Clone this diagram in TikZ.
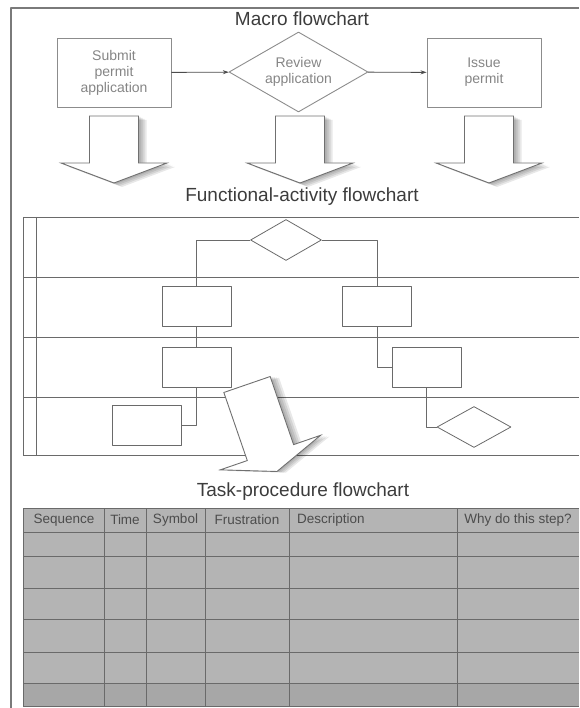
\documentclass[tikz,border=0pt]{standalone}
\usepackage{fontspec}
\setmainfont{Liberation Sans}
\usetikzlibrary{shapes.geometric,arrows.meta}
\definecolor{framegray}{HTML}{7A7A7A}
\definecolor{linegray}{HTML}{8C8C8C}
\definecolor{lanegray}{HTML}{6A6A6A}
\definecolor{textgray}{HTML}{858585}
\definecolor{titlegray}{HTML}{3C3C3C}
\definecolor{tablegray}{HTML}{B4B4B4}
\tikzset{
  pbox/.style={draw=linegray, line width=0.9pt, minimum width=114, minimum height=69, align=center,
    text=textgray, font=\fontsize{14}{16}\selectfont},
  pdec/.style={pbox, diamond, aspect=1.74, inner sep=0pt, minimum width=139, minimum height=80},
  fbox/.style={draw=lanegray, line width=0.8pt, minimum width=69, minimum height=40, inner sep=0pt},
  fdec/.style={fbox, diamond, minimum width=71, minimum height=41},
  ttl/.style={text=titlegray, font=\fontsize{19}{22}\selectfont, inner sep=0pt},
  hdr/.style={text=black!70, font=\fontsize{13.5}{16}\selectfont, inner sep=0pt},
  lane/.style={draw=lanegray, line width=0.8pt},
  pics/bigarrow/.style={code={
    % soft shadow
    \foreach \s in {2,4,6,8}
      \fill[black, opacity=0.09, shift={(\s,\s/2)}] (-24.5,0) -- (24.5,0) -- (24.5,#1) -- (53,#1)
        -- (0,#1+20) -- (-53,#1) -- (-24.5,#1) -- cycle;
    \draw[draw=linegray!80!black, line width=0.9pt, fill=white, line join=miter] (-24.5,0) -- (24.5,0)
      -- (24.5,#1) -- (53,#1) -- (0,#1+20) -- (-53,#1) -- (-24.5,#1) -- cycle;
  }}
}
\begin{document}
\begin{tikzpicture}[x=1pt, y=-1pt, line join=round, >={Stealth[length=6pt,width=4pt]}]
  \useasboundingbox (0,0) rectangle (579,708);
  \draw[framegray, line width=2pt] (11,708) -- (11,8) -- (579,8);

  % macro flowchart
  \node[ttl] (tmacro) at (302,19) {Macro flowchart};
  \node[pbox] (submit) at (114,72.5) {Submit\\permit\\application};
  \node[pdec] (review) at (298.5,72) {Review\\application};
  \node[pbox] (issue) at (484,72.5) {Issue\\permit};
  \draw[->, black!70, line width=0.9pt] (submit) -- (review);
  \draw[->, black!70, line width=0.9pt] (review) -- (issue);
  \foreach \ax in {114,300,489}
    \pic at (\ax,116) {bigarrow=47};

  % functional-activity flowchart
  \node[ttl] (tfunc) at (302,197) {Functional-activity flowchart};
  \foreach \ly in {217,277,337,397,455}
    \draw[lane] (23,\ly) -- (579,\ly);
  \draw[lane] (23,217) -- (23,455);
  \draw[lane] (36,217) -- (36,455);
  \node[fdec] (dtop) at (286,240) {};
  \node[fbox] (a1) at (196.5,306) {};
  \node[fbox] (b1) at (377,306) {};
  \node[fbox] (a2) at (196.5,367) {};
  \node[fbox] (b2) at (426.5,367) {};
  \node[fbox] (a3) at (147,425) {};
  \node[fdec, minimum width=74] (dend) at (474,427) {};
  \draw[lane] (dtop.west) -| (a1.north);
  \draw[lane] (dtop.east) -| (b1.north);
  \draw[lane] (a1) -- (a2);
  \draw[lane] (b1.south) |- (b2.west);
  \draw[lane] (a2.south) |- (a3.east);
  \draw[lane] (b2.south) |- (dend.west);
  \pic[rotate=19] at (247,384.5) {bigarrow=72};

  % task-procedure flowchart
  \node[ttl] (ttask) at (303,492) {Task-procedure flowchart};
  \fill[tablegray] (23,508) rectangle (579,706);
  \fill[tablegray!93!black] (23,683) rectangle (579,706);
  \foreach \ty in {508,532,556,588,619,652,683,706}
    \draw[lanegray, line width=0.8pt] (23,\ty) -- (579,\ty);
  \foreach \tx in {23,104,146,205,289,457}
    \draw[lanegray, line width=0.8pt] (\tx,508) -- (\tx,706);
  \node[hdr] (hseq) at (64,520) {Sequence};
  \node[hdr] (htime) at (125,520) {Time};
  \node[hdr] (hsym) at (175.5,520) {Symbol};
  \node[hdr] (hfru) at (247,520) {Frustration};
  \node[hdr, anchor=west] (hdes) at (297,520) {Description};
  \node[hdr] (hwhy) at (518,520) {Why do this step?};
\end{tikzpicture}
\end{document}
